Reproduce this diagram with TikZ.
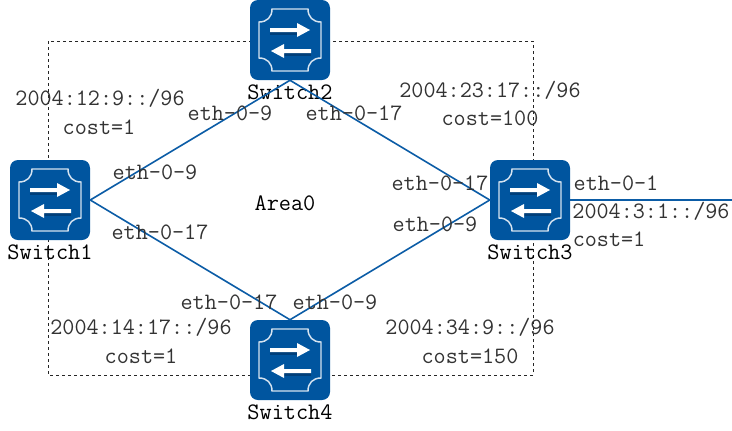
\documentclass[tikz,border=0pt]{standalone}
\definecolor{swblue}{HTML}{00559F}
\definecolor{swdark}{HTML}{003F7A}
\definecolor{swline}{HTML}{D5E3F0}
\definecolor{linkblue}{HTML}{0B5CA6}
\definecolor{labelgray}{HTML}{333333}
\tikzset{
	switchbox/.style={fill=swblue,rounded corners=6pt,minimum size=60pt,inner sep=0pt},
	link/.style={draw=linkblue,line width=1.2pt},
	area/.style={draw=black!85,dash pattern=on 2.25pt off 2.25pt,line width=0.75pt},
	swname/.style={font=\fontsize{17.7}{20}\selectfont\ttfamily,text=black,inner sep=0pt},
	linklabel/.style={font=\fontsize{17.6}{20}\selectfont\ttfamily,text=labelgray,inner sep=0pt},
	pics/swicon/.style={code={
		% Notched outline
		\draw[swline,line width=1.1pt] (-18,-31) -- (18,-31)
			.. controls (18,-23) and (23,-18) .. (31,-18) -- (31,18)
			.. controls (23,18) and (18,23) .. (18,31) -- (-18,31)
			.. controls (-18,23) and (-23,18) .. (-31,18) -- (-31,-18)
			.. controls (-23,-18) and (-18,-23) .. (-18,-31) -- cycle;
		% Shadows
		\fill[swdark] (-20,-8) rectangle (7,-5.5);
		\fill[swdark] (-6,13) rectangle (21,15.5);
		% Arrows
		\fill[white] (-20,-12) -- (7,-12) -- (7,-17) -- (20,-10) -- (7,-3) -- (7,-8) -- (-20,-8) -- cycle;
		\fill[white] (21,9) -- (-6,9) -- (-6,4) -- (-19,11) -- (-6,18) -- (-6,13) -- (21,13) -- cycle;
	}}
}
\begin{document}
\begin{tikzpicture}[x=0.75pt,y=-0.75pt]
	\useasboundingbox (0,0) rectangle (732,430);
	\draw[area] (48,41) rectangle (533,375);
	% Switches
	\foreach \n/\x/\y in {1/50/200,2/290/40,3/530/200,4/290/360}{
		\node[switchbox] (sw\n) at (\x,\y) {};
		\pic at (sw\n) {swicon};
		\node[swname] (name\n) at (\x,\y+52.5) {Switch\n};
	}
	% Links
	\coordinate (uplink) at (732,200);
	\draw[link] (sw1.east) -- (sw2.south) -- (sw3.west) -- (sw4.north) -- (sw1.east);
	\draw[link] (sw3.east) -- (uplink);
	% Labels
	\node[swname] (area0) at (285,203) {Area0};
	\foreach \x/\y/\t [count=\i] in {
		100/98/{2004:12:9::/96}, 99/127/cost=1, 230/113/eth-0-9, 354/113/eth-0-17,
		490/90/{2004:23:17::/96}, 490/118/cost=100, 155/172/eth-0-9, 160/232/eth-0-17,
		440/183/eth-0-17, 435/224/eth-0-9, 616/183/eth-0-1, 651/211/{2004:3:1::/96},
		609/239/cost=1, 229/302/eth-0-17, 335/302/eth-0-9, 141/327/{2004:14:17::/96},
		141/356/cost=1, 470/327/{2004:34:9::/96}, 470/356/cost=150}{
		\node[linklabel] (lab\i) at (\x,\y) {\t};
	}
\end{tikzpicture}
\end{document}
